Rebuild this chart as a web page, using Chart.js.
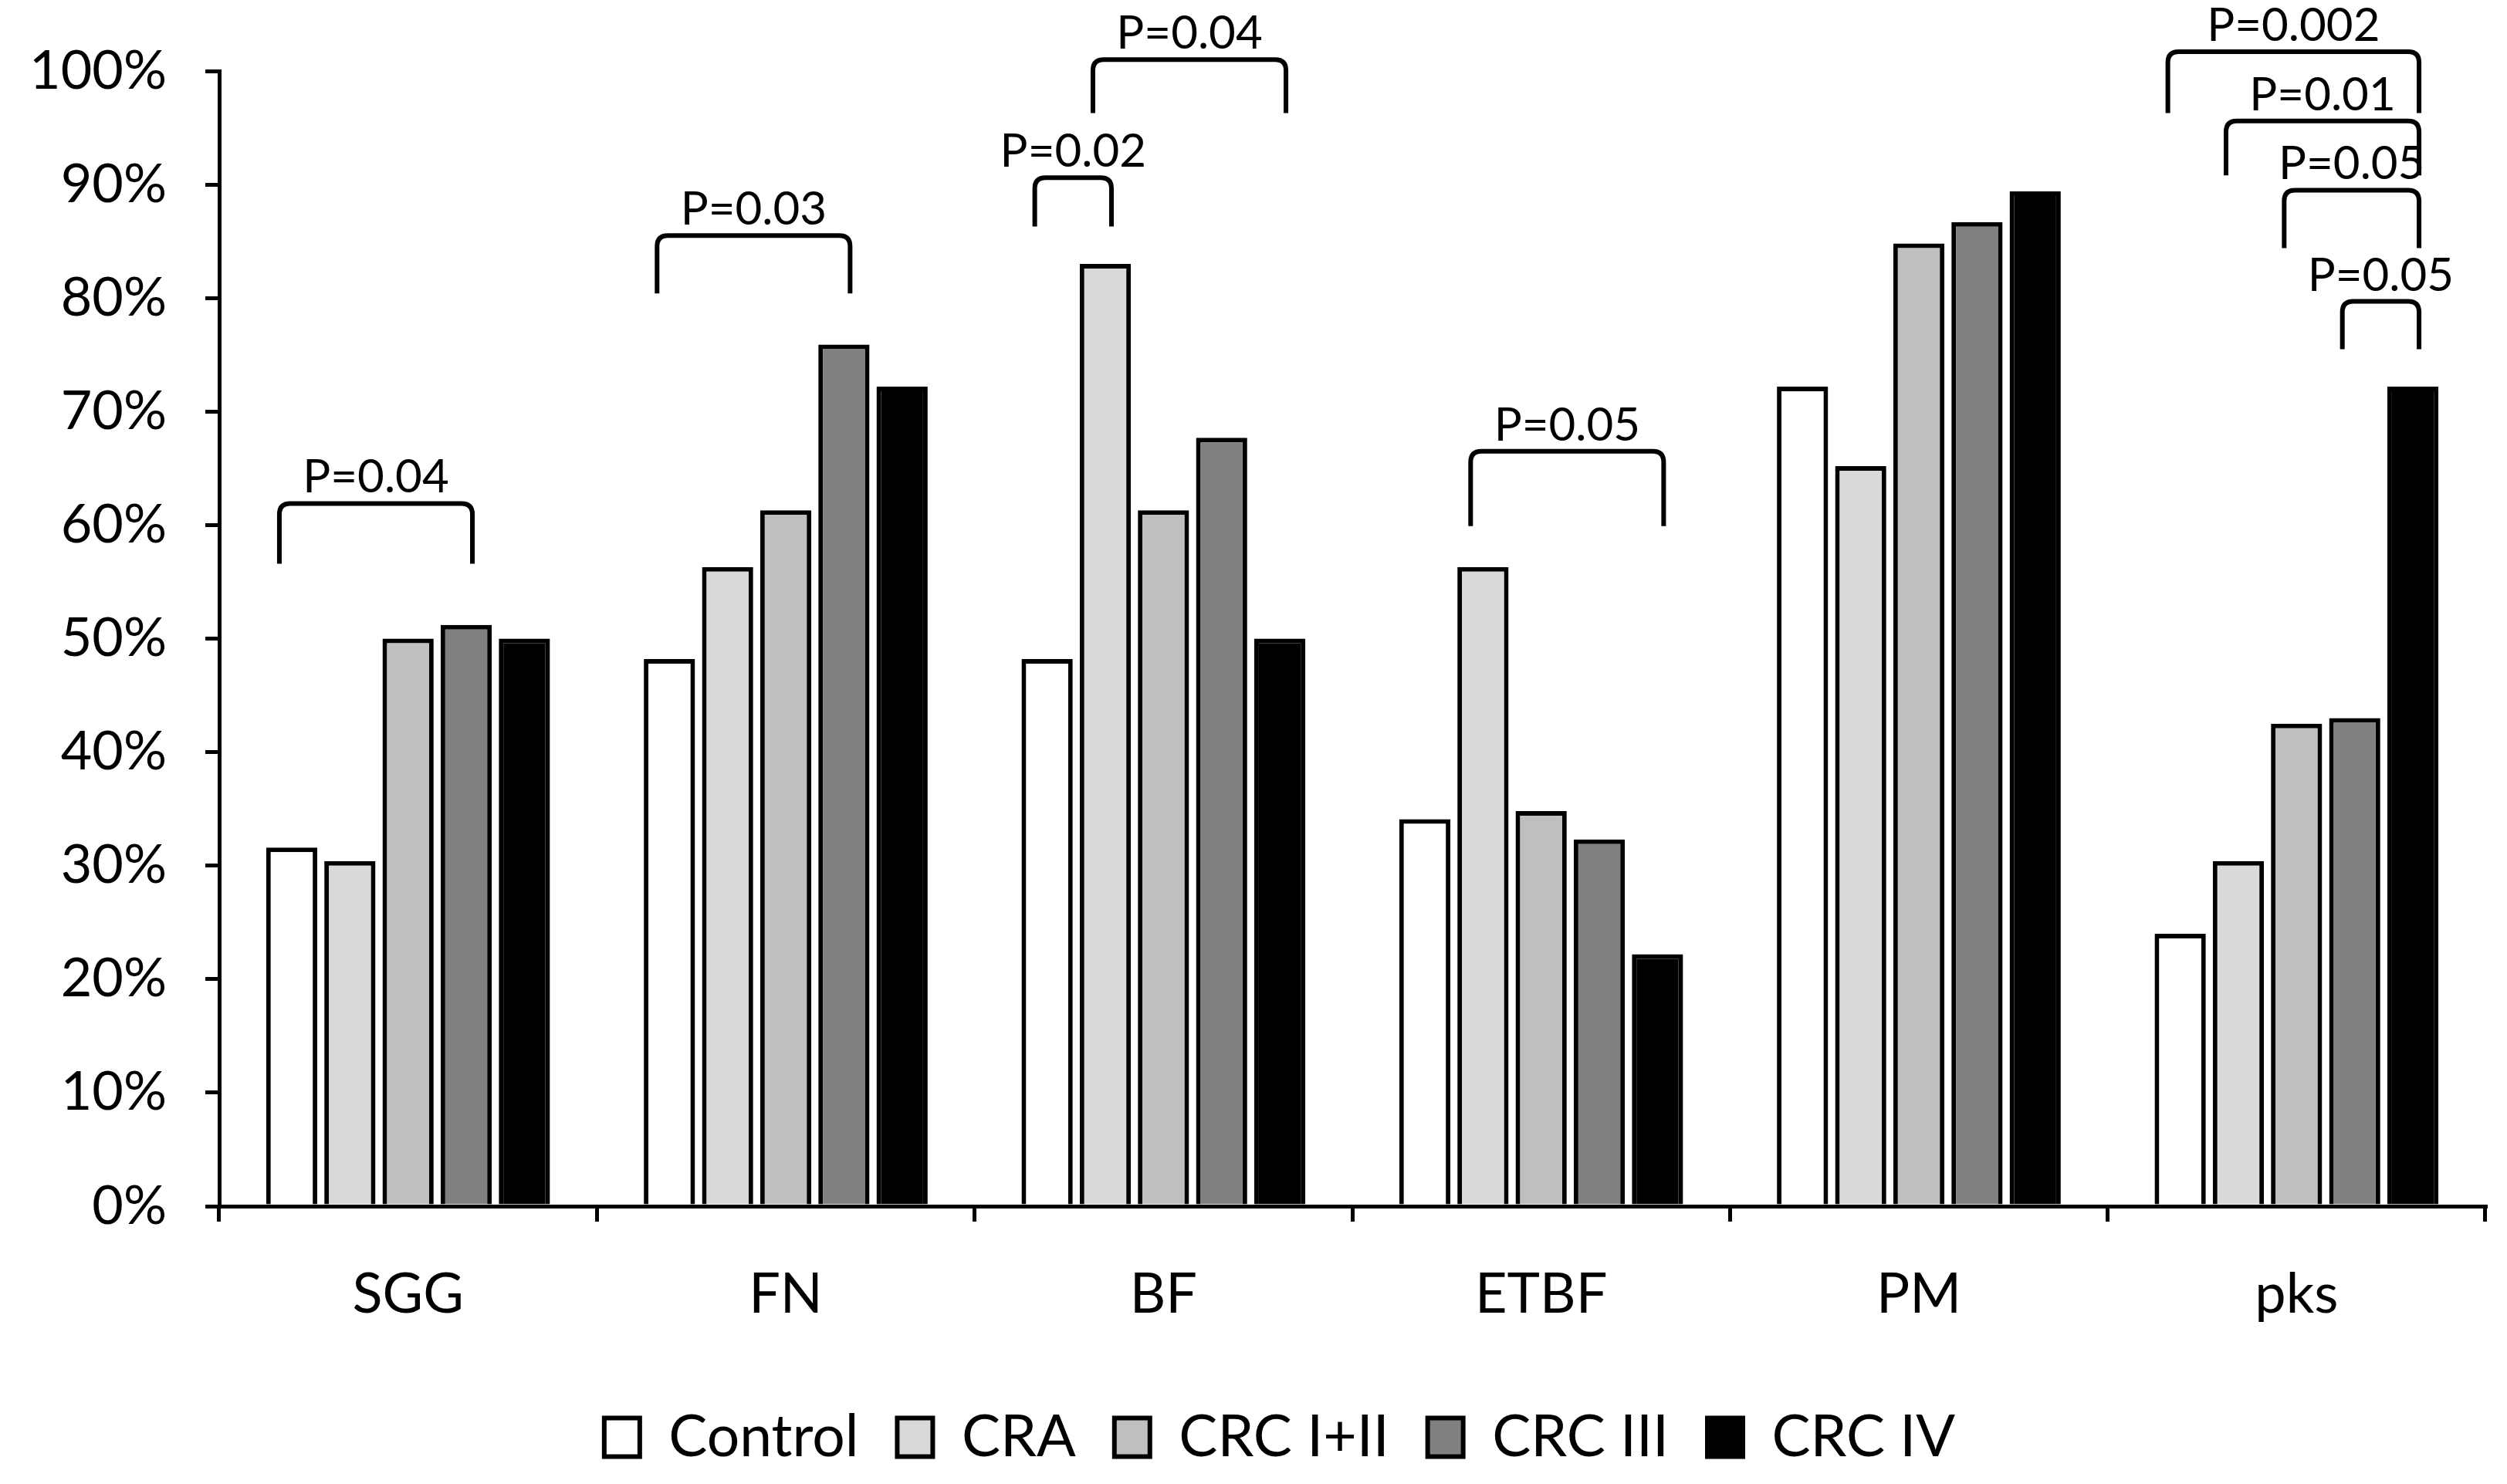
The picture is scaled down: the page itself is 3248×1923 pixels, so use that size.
<!DOCTYPE html>
<html lang="en">
<head>
  <meta charset="UTF-8">
  <title>Bacteria prevalence by group</title>
  <script src="https://cdn.jsdelivr.net/npm/chart.js"></script>
  <style>
    body {
      margin: 0;
      background: #fff;
    }
    #wrap {
      width: 3248px;
      height: 1923px;
    }
  </style>
</head>
<body>
  <div id="wrap"><canvas id="bacChart"></canvas></div>

  <script>
    // categories and series (values in %)
    const categories = ['SGG', 'FN', 'BF', 'ETBF', 'PM', 'pks'];
    const seriesNames = ['Control', 'CRA', 'CRC I+II', 'CRC III', 'CRC IV'];
    const seriesColors = ['#ffffff', '#d9d9d9', '#bfbfbf', '#808080', '#000000'];

    const control = [31.6, 48.2, 48.2, 34.1, 72.2, 24.0];
    const cra = [30.4, 56.3, 83.0, 56.3, 65.2, 30.4];
    const crc12 = [50.0, 61.3, 61.3, 34.8, 84.8, 42.5];
    const crc3 = [51.2, 75.9, 67.7, 32.3, 86.7, 43.0];
    const crc4 = [50.0, 72.2, 50.0, 22.2, 89.4, 72.2];

    // significance brackets: [category, from series, to series, top %, leg end %, text]
    const brackets = [
      ['SGG', 0, 3, 61.9, 56.6, 'P=0.04'],
      ['FN', 0, 3, 85.5, 80.4, 'P=0.03'],
      ['BF', 0, 1, 90.6, 86.3, 'P=0.02'],
      ['BF', 1, 4, 101.0, 96.3, 'P=0.04'],
      ['ETBF', 1, 4, 66.5, 59.9, 'P=0.05'],
      ['pks', 0, 4, 101.7, 96.3, 'P=0.002'],
      ['pks', 1, 4, 95.6, 90.8, 'P=0.01'],
      ['pks', 2, 4, 89.5, 84.4, 'P=0.05'],
      ['pks', 3, 4, 79.7, 75.5, 'P=0.05']
    ];

    const allValues = [control, cra, crc12, crc3, crc4];
    const FONT = 'Lato, "Open Sans", sans-serif';

    const bracketPlugin = {
      id: 'brackets',
      afterLayout(chart) {
        // legend sits a little right of the page centre, under the plot
        chart.legend.left += 48;
        chart.legend.right += 48;
      },
      afterDraw(chart) {
        const c = chart.ctx;
        const y = chart.scales.y;
        c.save();
        c.strokeStyle = '#000';
        c.lineWidth = 6;
        c.fillStyle = '#000';
        c.font = '60px ' + FONT;
        c.textAlign = 'center';
        c.textBaseline = 'alphabetic';
        brackets.forEach(b => {
          const ci = categories.indexOf(b[0]);
          const x1 = chart.getDatasetMeta(b[1]).data[ci].x - 16;
          const x2 = chart.getDatasetMeta(b[2]).data[ci].x + 8;
          const yTop = y.getPixelForValue(b[3]);
          const yLeg = y.getPixelForValue(b[4]);
          const r = 14;
          c.beginPath();
          c.moveTo(x1, yLeg);
          c.lineTo(x1, yTop + r);
          c.quadraticCurveTo(x1, yTop, x1 + r, yTop);
          c.lineTo(x2 - r, yTop);
          c.quadraticCurveTo(x2, yTop, x2, yTop + r);
          c.lineTo(x2, yLeg);
          c.stroke();
          c.fillText(b[5], (x1 + x2) / 2, yTop - 14);
        });
        c.restore();
      }
    };

    const ctx = document.getElementById('bacChart').getContext('2d');
    const bacChart = new Chart(ctx, {
      type: 'bar',
      data: {
        labels: categories,
        datasets: seriesNames.map((name, i) => ({
          label: name,
          data: allValues[i],
          backgroundColor: seriesColors[i],
          borderColor: '#000',
          borderWidth: 6,
          categoryPercentage: 0.77,
          barPercentage: 0.88
        }))
      },
      options: {
        responsive: true,
        maintainAspectRatio: false,
        devicePixelRatio: 1,
        animation: false,
        layout: {
          padding: { top: 89, right: 28, left: 0, bottom: 13 }
        },
        scales: {
          x: {
            grid: {
              offset: true,
              drawOnChartArea: false,
              drawTicks: true,
              tickLength: 20,
              lineWidth: 5,
              color: '#000'
            },
            border: { color: '#000', width: 5 },
            ticks: {
              color: '#000',
              padding: 52,
              font: { family: FONT, size: 72 }
            },
            afterFit(scale) { scale.height = 212; }
          },
          y: {
            min: 0,
            max: 100,
            grid: {
              drawOnChartArea: false,
              drawTicks: true,
              tickLength: 18,
              lineWidth: 5,
              color: '#000'
            },
            border: { color: '#000', width: 5 },
            ticks: {
              stepSize: 10,
              color: '#000',
              padding: 50,
              font: { family: FONT, size: 70 },
              callback: function(value) {
                return value + '%';
              }
            },
            afterFit(scale) { scale.width = 284; }
          }
        },
        plugins: {
          legend: {
            position: 'bottom',
            labels: {
              color: '#000',
              boxWidth: 46,
              boxHeight: 50,
              padding: 50,
              font: { family: FONT, size: 75 }
            }
          },
          tooltip: { enabled: false }
        }
      },
      plugins: [bracketPlugin]
    });
  </script>
</body>
</html>
